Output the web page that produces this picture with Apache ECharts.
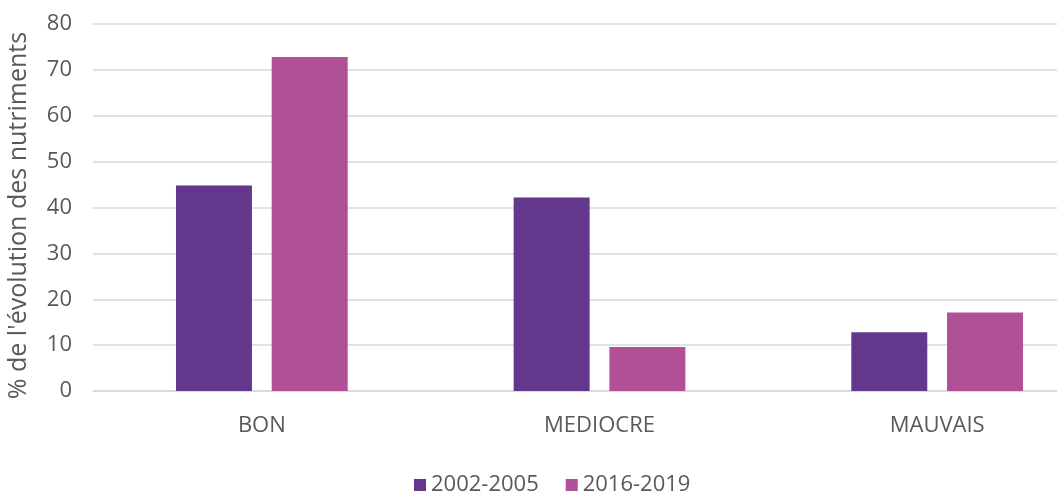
<!DOCTYPE html>
<html>
<head>
<meta charset="utf-8">
<script src="https://cdn.jsdelivr.net/npm/echarts@6/dist/echarts.min.js"></script>
<style>
html,body{margin:0;padding:0;background:#fff;overflow:hidden;width:1057px;height:491px;}
#chart{width:1106px;height:491px;}
</style>
</head>
<body>
<div id="chart"></div>
<script>
const categories = ['BON', 'MEDIOCRE', 'MAUVAIS'];
const seriesNames = ['2002-2005', '2016-2019'];
const values2002 = [44.8, 42.2, 12.8];
const values2016 = [72.8, 9.6, 17.1];
const yTicks = { min: 0, max: 80, interval: 10 };
const yAxisTitle = "% de l'évolution des nutriments";

const textColor = '#595959';
const fontFamily = '"Open Sans", sans-serif';
const chart = echarts.init(document.getElementById('chart'), null, { renderer: 'canvas' });
chart.setOption({
  animation: false,
  backgroundColor: '#ffffff',
  textStyle: { fontFamily: fontFamily },
  grid: { left: 93, right: 0, top: 24, bottom: 100, containLabel: false, outerBoundsMode: 'none' },
  legend: {
    data: seriesNames,
    top: 469,
    left: 409,
    itemWidth: 12,
    itemHeight: 12,
    itemGap: 27,
    icon: 'rect',
    textStyle: { color: textColor, fontSize: 22, fontFamily: fontFamily, padding: [0, 0, 0, 0] }
  },
  xAxis: {
    type: 'category',
    data: categories,
    axisLine: { show: true, lineStyle: { color: '#d9d9d9', width: 1.5 } },
    axisTick: { show: false },
    axisLabel: { color: textColor, fontSize: 22, margin: 24, fontFamily: fontFamily }
  },
  yAxis: {
    type: 'value',
    min: yTicks.min,
    max: yTicks.max,
    interval: yTicks.interval,
    name: yAxisTitle,
    nameLocation: 'middle',
    nameGap: 62,
    nameTextStyle: { color: textColor, fontSize: 25, fontFamily: fontFamily, padding: [0, 16, 0, 0] },
    axisLine: { show: false },
    axisTick: { show: false },
    axisLabel: { color: textColor, fontSize: 22, margin: 21, fontFamily: fontFamily },
    splitLine: { lineStyle: { color: '#d9d9d9', width: 1.5 } }
  },
  series: [
    {
      name: seriesNames[0],
      type: 'bar',
      data: values2002,
      barWidth: '22.5%',
      barGap: '26%',
      itemStyle: { color: '#63378b' }
    },
    {
      name: seriesNames[1],
      type: 'bar',
      data: values2016,
      barWidth: '22.5%',
      itemStyle: { color: '#b05097' }
    }
  ]
});
</script>
</body>
</html>
